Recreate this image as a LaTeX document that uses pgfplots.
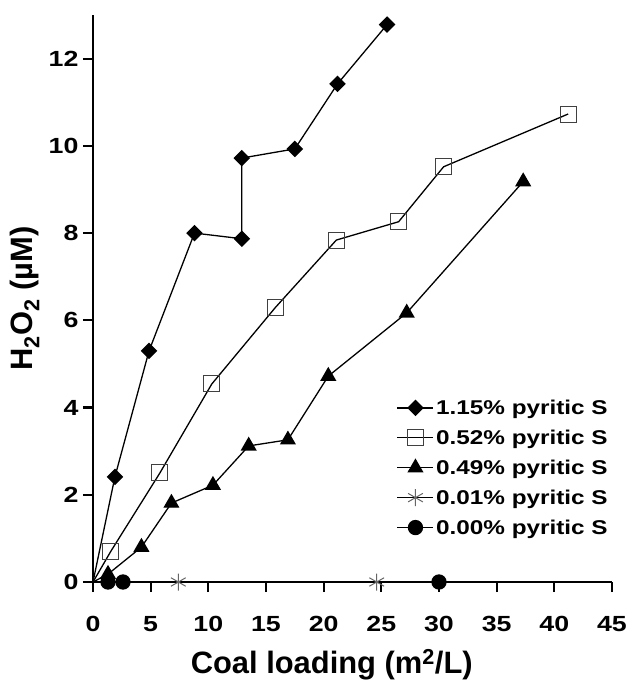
\documentclass[border=0pt]{standalone}
\usepackage{fontspec}
\setmainfont{Liberation Sans}
\newfontfamily\wide{Liberation Sans}[FakeStretch=1.22]
\usepackage{pgfplots}
\pgfplotsset{compat=1.18}

\begin{document}
\begin{tikzpicture}
\useasboundingbox (-93bp,-99bp) rectangle (534bp,582bp);
\begin{axis}[
  scale only axis, width=519bp, height=567bp,
  xmin=0, xmax=45, ymin=0, ymax=13,
  xtick={0,5,...,45}, ytick={0,2,...,12},
  axis lines*=left,
  axis line style={line width=2.6bp},
  tick align=outside, major tick length=10bp,
  tick style={line width=2.2bp, black},
  /pgf/number format/assume math mode=true,
  ticklabel style={font=\wide\bfseries\fontsize{22}{22}\selectfont},
  xticklabel style={yshift=-21bp},
  yticklabel style={xshift=-1bp},
  xlabel={Coal loading (m\textsuperscript{2}/L)},
  ylabel={H\textsubscript{2}O\textsubscript{2} (µM)},
  label style={font=\bfseries\fontsize{31}{31}\selectfont},
  xlabel style={at={(axis description cs:0.46,0)}, anchor=base, yshift=-91bp},
  ylabel style={at={(axis description cs:-0.131,0.5)}, anchor=center},
  clip=false,
  legend cell align=left,
  legend style={at={(rel axis cs:0.585,0.325)}, anchor=north west, draw=none, fill=none,
    font=\wide\bfseries\fontsize{20}{22}\selectfont, row sep=10bp, inner sep=0pt,
    /tikz/every even column/.append style={column sep=4bp}},
  legend image code/.code={\draw[mark indices={2},#1] plot coordinates {(0bp,0bp) (18bp,0bp) (36bp,0bp)};},
  every axis plot/.append style={line width=1.3bp, black},
]
\addplot[mark=square*, mark size=5.2bp, mark options={rotate=45}, mark indices={2,3,4,5,6,7,8,9}] coordinates {
  (0,0) (1.9,2.41) (4.86,5.30) (8.8,8.0) (12.9,7.87) (12.9,9.72) (17.5,9.93) (21.2,11.42) (25.5,12.78)};
\addlegendentry{1.15\% pyritic S}
\addplot[mark=square, mark size=8bp, mark options={fill=white, line width=1bp, draw=black!75}, mark indices={2,3,4,5,6,7,8,9}] coordinates {
  (0,0) (1.56,0.71) (5.8,2.5) (10.3,4.54) (15.8,6.29) (21.1,7.84) (26.5,8.26) (30.4,9.52) (41.2,10.73)};
\addlegendentry{0.52\% pyritic S}
\addplot[mark=triangle*, mark size=8bp, mark indices={2,3,4,5,6,7,8,9,10}] coordinates {
  (0,0) (1.3,0.18) (4.2,0.80) (6.8,1.81) (10.4,2.22) (13.5,3.12) (16.9,3.26) (20.4,4.72) (27.2,6.17) (37.3,9.18)};
\addlegendentry{0.49\% pyritic S}
\addplot[mark=asterisk, mark size=8.5bp, mark options={draw=black!60, line width=1bp}, mark indices={2,3}] coordinates {
  (0,0) (7.4,0) (24.6,0)};
\addlegendentry{0.01\% pyritic S}
\addplot[mark=*, mark size=7bp, mark indices={2,3,4}] coordinates {
  (0,0) (1.3,0) (2.6,0) (30.0,0)};
\addlegendentry{0.00\% pyritic S}
\end{axis}
\end{tikzpicture}
\end{document}
